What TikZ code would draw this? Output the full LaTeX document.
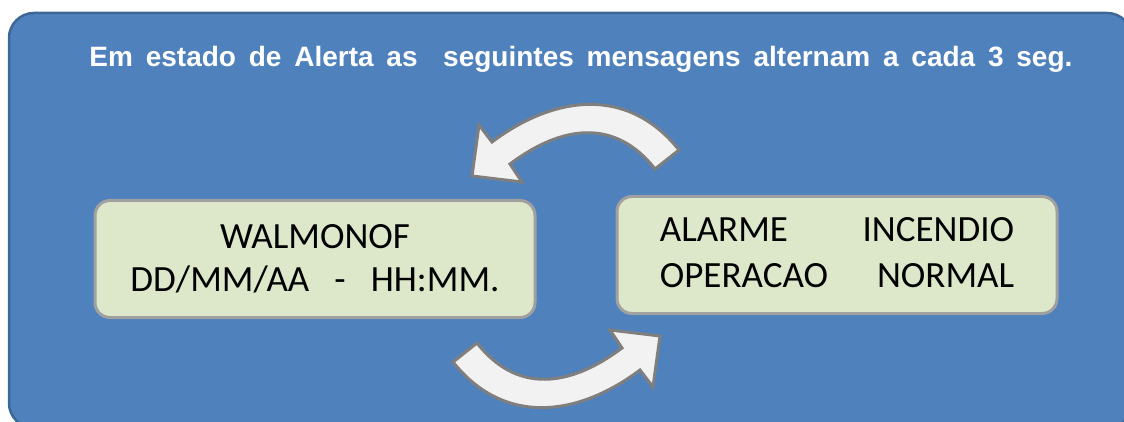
\documentclass[tikz,border=0pt]{standalone}
\usepackage{fontspec}
\setmainfont{Carlito}
\newfontfamily\titlefont{Liberation Sans}
\definecolor{panelblue}{HTML}{4F81BD}
\definecolor{paneledge}{HTML}{3D6797}
\definecolor{lcdgreen}{HTML}{DDE8CA}
\definecolor{lcdedge}{HTML}{A0A0A0}
\definecolor{arrowfill}{HTML}{F2F2F2}
\definecolor{arrowedge}{HTML}{7F7F7F}
\tikzset{
  panel/.style={fill=panelblue, draw=paneledge, line width=2.5pt, rounded corners=25pt},
  lcd/.style={rectangle, rounded corners=15pt, fill=lcdgreen, draw=lcdedge, line width=3pt,
    minimum width=440pt, minimum height=117pt, align=center, inner sep=0pt},
  title/.style={text=white, font=\titlefont\bfseries\fontsize{28}{34}\selectfont},
  bentarrow/.style={fill=arrowfill, draw=arrowedge, line width=3pt},
}
\newcommand{\bentpath}{(453,362) .. controls (503,425) and (576,418) .. (640,370)
  -- (653,387) -- (660,336) -- (610,330) -- (622,348)
  .. controls (570,387) and (517,394) .. (477,343) -- cycle}
\begin{document}
\begin{tikzpicture}[x=1pt,y=-1pt]
    \useasboundingbox (0,0) rectangle (1124,422);
    \clip (0,0) rectangle (1124,422);

    % background panel
    \draw[panel] (9,13) rectangle (1132,428);
    \node[title, anchor=base] (heading) at (581,67)
        {\spaceskip=12.8pt Em estado de Alerta as\hspace{12.8pt} seguintes mensagens alternam a cada 3 seg.};

    % the two messages
    \node[lcd, font=\fontsize{37}{43}\selectfont] (clock) at (315,259)
        {WALMONOF\\DD/MM/AA\ \ \ -\ \ \ HH:MM.};
    \node[lcd, font=\fontsize{37}{46.5}\selectfont] (alarm) at (837,255)
        {\begin{tabular}{@{}l@{\hspace{34.7pt}}r@{}}ALARME & INCENDIO\\OPERACAO & NORMAL\end{tabular}};

    % bent arrows
    \draw[bentarrow] \bentpath;
    \begin{scope}[rotate around={180:(566,256)}]
        \draw[bentarrow] \bentpath;
    \end{scope}
\end{tikzpicture}
\end{document}
